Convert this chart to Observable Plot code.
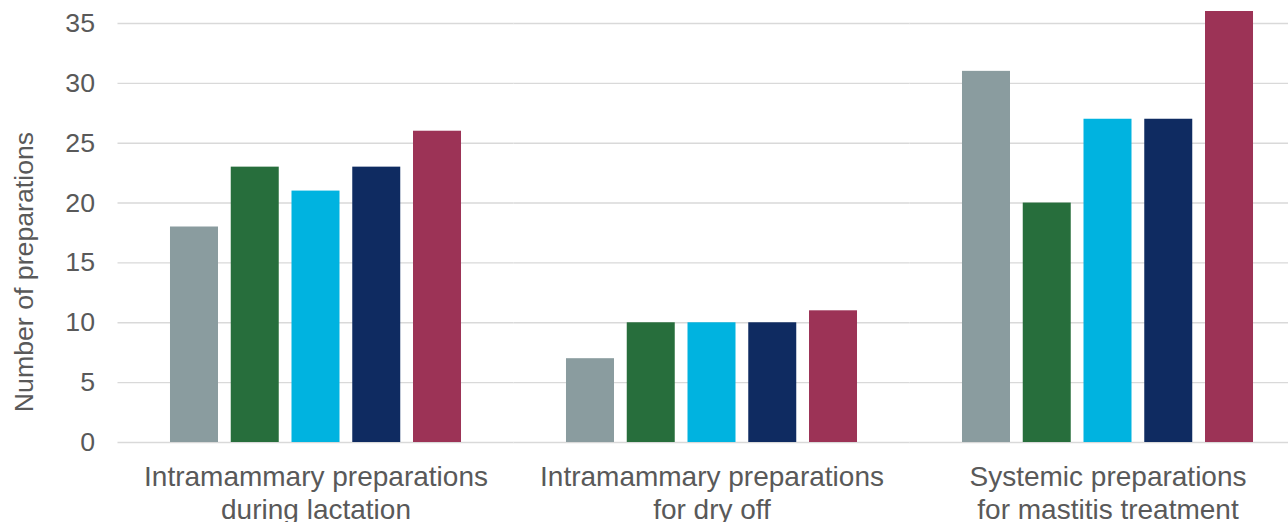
<!DOCTYPE html>
<html>
<head>
<meta charset="utf-8">
<script src="https://cdn.jsdelivr.net/npm/d3@7"></script>
<script src="https://cdn.jsdelivr.net/npm/@observablehq/plot@0.6"></script>
<style>
  html, body { margin: 0; padding: 0; background: #fff; }
  #chart svg { display: block; }
</style>
</head>
<body>
<div id="chart"></div>
<script>
// Product groups on the horizontal axis
const categories = [
  "Intramammary preparations\nduring lactation",
  "Intramammary preparations\nfor dry off",
  "Systemic preparations\nfor mastitis treatment"
];
// Five series drawn side by side inside each group
const series = ["Series 1", "Series 2", "Series 3", "Series 4", "Series 5"];
const seriesColors = ["#8A9C9F", "#276E3C", "#00B3E0", "#0F2B61", "#9C3356"];
// Number of preparations, one row per category, one value per series
const values = [
  [18, 23, 21, 23, 26],
  [7, 10, 10, 10, 11],
  [31, 20, 27, 27, 36]
];
const yTicks = [0, 5, 10, 15, 20, 25, 30, 35];

const rows = categories.flatMap((c, i) =>
  series.map((s, j) => ({category: c, series: s, value: values[i][j]}))
);

const textColor = "#595959";
const font = "Liberation Sans, Arial, sans-serif";

const chart = Plot.plot({
  width: 1288,
  height: 522,
  marginLeft: 117.5,
  marginRight: -17.5,
  marginTop: 11,
  marginBottom: 80,
  style: {fontFamily: font, fontSize: "26.7px", color: textColor, background: "#fff"},
  fx: {domain: categories, paddingInner: 0, paddingOuter: 0, round: false, label: null},
  x: {domain: series, paddingInner: 0.21, paddingOuter: 0.864, round: false, axis: null},
  y: {domain: [0, 36], label: null},
  color: {domain: series, range: seriesColors},
  marks: [
    Plot.ruleY(yTicks, {stroke: "#D9D9D9", strokeWidth: 1.4}),
    Plot.barY(rows, {fx: "category", x: "series", y: "value", fill: "series"}),
    Plot.axisY(yTicks, {
      tickSize: 0, tickPadding: 23, fontSize: 26.7, fill: textColor,
      label: null
    }),
    Plot.axisFx({
      tickSize: 0, tickPadding: 21, fontSize: 28, fill: textColor,
      lineHeight: 1.15, label: null, anchor: "bottom"
    })
  ]
});

// Rotated y-axis title
const svg = d3.select(chart);
svg.append("text")
  .attr("transform", "translate(33,272) rotate(-90)")
  .attr("text-anchor", "middle")
  .attr("font-family", font)
  .attr("font-size", 26.7)
  .attr("fill", textColor)
  .text("Number of preparations");

document.getElementById("chart").appendChild(chart);
</script>
</body>
</html>
